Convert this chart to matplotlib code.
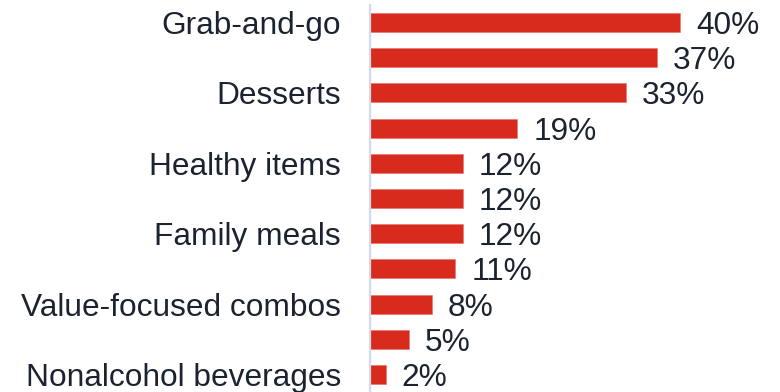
import matplotlib.pyplot as plt

# menu categories, top to bottom; every other row goes unlabeled
categories = ["Grab-and-go", "", "Desserts", "", "Healthy items", "",
              "Family meals", "", "Value-focused combos", "", "Nonalcohol beverages"]
shares = [40, 37, 33, 19, 12, 12, 12, 11, 8, 5, 2]

BAR_RED = '#d92a1e'
TEXT_COL = '#1c2330'

plt.rcParams['font.family'] = ['Liberation Sans', 'DejaVu Sans']

fig = plt.figure(figsize=(7.8, 3.92), dpi=100)
ax = fig.add_axes([370 / 780, 0.0, 387.5 / 780, 1 - 5 / 392])

ypos = list(range(len(categories)))
bars = ax.barh(ypos, shares, height=0.54, color=BAR_RED, edgecolor='#e8706a', linewidth=0.4)

for b, v in zip(bars, shares):
    ax.annotate(f"{v}%", (b.get_width(), b.get_y() + b.get_height() / 2),
                xytext=(11.5, 0), textcoords='offset points',
                va='center_baseline', ha='left', fontsize=22.8, color=TEXT_COL)

ax.set_yticks(ypos)
ax.set_yticklabels(categories, fontsize=22.8, color=TEXT_COL)
ax.tick_params(axis='y', length=0, pad=21)
ax.set_ylim(len(categories) - 0.5, -0.5)
ax.set_xlim(0, 50)
ax.set_xticks([])

for side in ['top', 'right', 'bottom']:
    ax.spines[side].set_visible(False)
ax.spines['left'].set_color('#d3dae8')
ax.spines['left'].set_linewidth(1.6)

fig.savefig('out.png', dpi=100)
